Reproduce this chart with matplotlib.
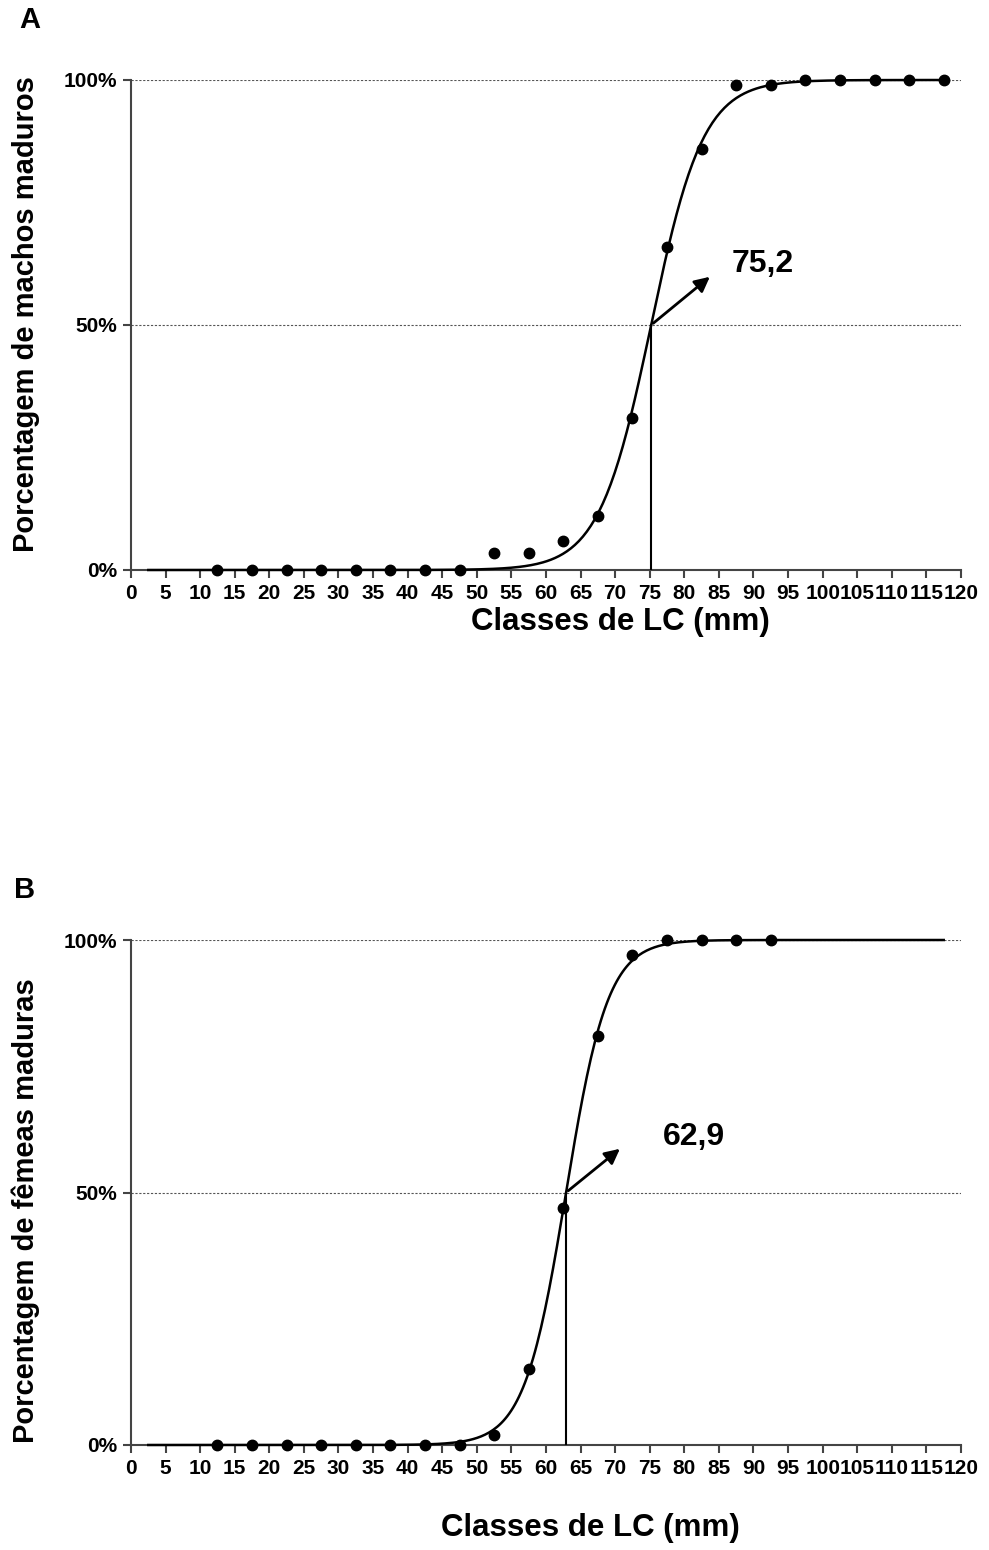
import numpy as np
import matplotlib
matplotlib.use("Agg")
import matplotlib.pyplot as plt

plt.rcParams['font.family'] = ['Liberation Sans', 'DejaVu Sans']
plt.rcParams['font.weight'] = 'bold'

# Class midpoints (mm)
classes_a = [12.5, 17.5, 22.5, 27.5, 32.5, 37.5, 42.5, 47.5, 52.5, 57.5, 62.5, 67.5,
             72.5, 77.5, 82.5, 87.5, 92.5, 97.5, 102.5, 107.5, 112.5, 117.5]
mature_a = [0, 0, 0, 0, 0, 0, 0, 0, 0.035, 0.035, 0.06, 0.11,
            0.31, 0.66, 0.86, 0.99, 0.99, 1.0, 1.0, 1.0, 1.0, 1.0]

classes_b = [12.5, 17.5, 22.5, 27.5, 32.5, 37.5, 42.5, 47.5, 52.5, 57.5, 62.5, 67.5,
             72.5, 77.5, 82.5, 87.5, 92.5]
mature_b = [0, 0, 0, 0, 0, 0, 0, 0, 0.02, 0.15, 0.47, 0.81,
            0.97, 1.0, 1.0, 1.0, 1.0]

# Fitted logistic parameters (L50, slope) and fitted range
l50_a, slope_a = 75.2, 0.265
l50_b, slope_b = 62.9, 0.33
fit_range = (2.5, 117.5)

labels_a = "75,2"
labels_b = "62,9"
xticks = list(range(0, 121, 5))
yticks = [0, 0.5, 1.0]
yticklabels = ["0%", "50%", "100%"]

fig = plt.figure(figsize=(9.89, 15.5), dpi=100)
W, H = 989, 1550

def make_ax(top_px, bottom_px):
    left, right = 131, 961
    return fig.add_axes([left / W, 1 - bottom_px / H, (right - left) / W, (bottom_px - top_px) / H])

ax_a = make_ax(80, 570)
ax_b = make_ax(940, 1445)

def draw(ax, xs, ys, l50, slope, lab, arrow_tip, text_pos):
    ax.set_xlim(0, 120)
    ax.set_ylim(0, 1)
    for yv in [0.5, 1.0]:
        ax.axhline(yv, color='#555555', lw=0.8, ls=(0, (2, 1.5)), zorder=1)
    xf = np.linspace(fit_range[0], fit_range[1], 400)
    yf = 1.0 / (1.0 + np.exp(-slope * (xf - l50)))
    ax.plot(xf, yf, color='black', lw=1.8, zorder=3, clip_on=False)
    ax.plot(xs, ys, 'o', color='black', ms=7.5, zorder=4, clip_on=False)
    ax.plot([l50, l50], [0, 0.5], color='black', lw=1.5, zorder=3)
    ax.annotate('', xy=arrow_tip, xytext=(l50, 0.5),
                arrowprops=dict(arrowstyle='-|>,head_length=0.9,head_width=0.45',
                                color='black', lw=2), zorder=5)
    ax.text(text_pos[0], text_pos[1], lab, fontsize=23, fontweight='bold',
            ha='left', va='center')
    for s in ['top', 'right']:
        ax.spines[s].set_visible(False)
    for s in ['left', 'bottom']:
        ax.spines[s].set_color('#444444')
        ax.spines[s].set_linewidth(1.5)
    ax.set_xticks(xticks)
    ax.set_xticklabels([str(t) for t in xticks], fontsize=15, fontweight='bold')
    ax.set_yticks(yticks)
    ax.set_yticklabels(yticklabels, fontsize=15, fontweight='bold')
    ax.tick_params(axis='both', direction='out', length=6, width=1.5, color='#444444', pad=4)

draw(ax_a, classes_a, mature_a, l50_a, slope_a, labels_a, (84.0, 0.602), (86.9, 0.625))
draw(ax_b, classes_b, mature_b, l50_b, slope_b, labels_b, (71.0, 0.59), (76.9, 0.61))

fig.text(26 / W, 1 - 314 / H, "Porcentagem de machos maduros", fontsize=21,
         fontweight='bold', rotation=90, ha='center', va='center')
fig.text(26 / W, 1 - 1211 / H, "Porcentagem de fêmeas maduras", fontsize=21,
         fontweight='bold', rotation=90, ha='center', va='center')

fig.text(620 / W, 1 - 622 / H, "Classes de LC (mm)", fontsize=22.5, fontweight='bold',
         ha='center', va='center')
fig.text(590 / W, 1 - 1528 / H, "Classes de LC (mm)", fontsize=22.5, fontweight='bold',
         ha='center', va='center')
fig.text(30 / W, 1 - 20 / H, "A", fontsize=21, fontweight='bold', ha='center', va='center')
fig.text(25 / W, 1 - 890 / H, "B", fontsize=21, fontweight='bold', ha='center', va='center')

fig.savefig("out.png", dpi=100, facecolor='white')
